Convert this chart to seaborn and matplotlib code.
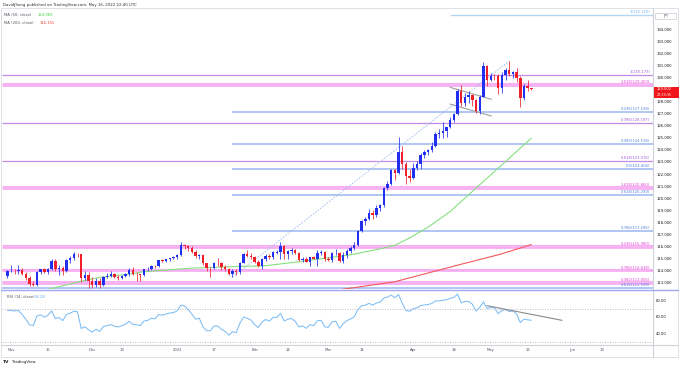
import numpy as np
import pandas as pd
import matplotlib
matplotlib.use("Agg")
import matplotlib.pyplot as plt
import matplotlib.transforms as mtransforms
from matplotlib.lines import Line2D
from matplotlib.patches import Rectangle
import seaborn as sns

sns.set_theme(style="white")
plt.rcParams['font.family'] = ['DejaVu Sans']

# ---------------- data (USD/JPY daily) ----------------
first_day = "2021-10-29"
opens = [113.55, 113.95, 114.00, 113.95, 114.05, 113.75, 113.40, 112.90, 112.85, 113.90,
         114.10, 113.90, 114.15, 114.80, 114.10, 114.25, 113.95, 114.85, 115.05, 115.40,
         115.35, 113.40, 113.65, 113.15, 112.80, 113.15, 112.80, 113.45, 113.55, 113.70,
         113.50, 113.40, 113.55, 113.70, 114.05, 113.75, 113.70, 113.60, 114.10, 114.15,
         114.40, 114.35, 114.85, 114.80, 114.95, 115.05, 115.10, 115.30, 116.15, 116.05,
         115.85, 115.55, 115.20, 115.30, 114.60, 114.25, 114.20, 114.65, 114.60, 114.30,
         114.10, 113.70, 113.95, 113.85, 114.65, 115.35, 115.25, 115.10, 114.70, 114.40,
         114.95, 115.25, 115.10, 115.50, 115.55, 116.05, 115.40, 115.60, 115.70, 115.45,
         114.90, 115.00, 114.75, 115.10, 115.00, 115.50, 115.55, 114.95, 114.90, 115.45,
         115.50, 114.80, 115.30, 115.65, 115.85, 116.15, 117.30, 118.15, 118.30, 118.75,
         118.60, 119.15, 119.45, 120.80, 121.20, 122.30, 122.05, 123.85, 122.85, 121.85,
         121.70, 122.50, 122.80, 123.60, 123.80, 123.95, 124.35, 125.35, 125.40, 125.60,
         125.85, 126.45, 126.95, 128.90, 127.85, 128.40, 128.50, 128.15, 127.25, 128.40,
         130.90, 129.80, 130.15, 130.10, 129.10, 130.20, 130.60, 130.25, 130.45, 129.95,
         128.30, 129.25, 129.10]
highs = [114.05, 114.45, 114.15, 114.45, 114.20, 113.90, 113.55, 113.15, 114.00, 114.15,
         114.25, 114.20, 114.95, 114.95, 114.45, 114.40, 114.95, 115.20, 115.52, 115.50,
         115.40, 113.95, 113.90, 113.50, 113.35, 113.35, 113.55, 113.80, 113.95, 113.80,
         113.65, 113.60, 113.80, 114.25, 114.30, 113.85, 113.75, 114.15, 114.30, 114.45,
         114.45, 114.90, 114.95, 115.00, 115.05, 115.25, 115.40, 116.35, 116.20, 116.10,
         116.05, 115.70, 115.40, 115.35, 114.65, 114.30, 114.70, 115.05, 114.70, 114.45,
         114.20, 114.10, 114.10, 114.70, 115.45, 115.70, 115.45, 115.20, 114.85, 115.05,
         115.40, 115.35, 115.65, 115.70, 116.35, 116.10, 115.70, 115.85, 115.80, 115.55,
         115.15, 115.10, 115.15, 115.25, 115.70, 115.75, 115.65, 115.10, 115.55, 115.80,
         115.55, 115.55, 115.80, 116.00, 116.35, 117.40, 118.20, 118.45, 119.10, 119.00,
         119.40, 119.55, 120.95, 121.40, 122.40, 122.45, 125.09, 124.30, 123.00, 122.45,
         122.90, 123.05, 123.70, 124.00, 124.05, 124.65, 125.45, 125.75, 126.30, 125.90,
         126.70, 127.05, 129.00, 129.40, 128.70, 128.85, 128.60, 128.20, 128.50, 131.25,
         131.00, 130.35, 130.30, 130.30, 130.45, 130.80, 131.35, 130.55, 130.80, 130.10,
         129.45, 129.80, 129.15]
lows = [113.40, 113.85, 113.70, 113.70, 113.60, 113.25, 112.75, 112.72, 112.75, 113.75,
        113.80, 113.75, 114.05, 113.95, 113.60, 113.60, 113.85, 114.65, 114.90, 115.10,
        113.05, 113.20, 112.55, 112.55, 112.65, 112.55, 112.75, 113.40, 113.45, 113.35,
        113.25, 113.30, 113.45, 113.55, 113.65, 113.15, 113.15, 113.55, 113.95, 114.05,
        114.25, 114.30, 114.70, 114.70, 114.80, 114.95, 115.00, 115.25, 115.80, 115.65,
        115.50, 115.05, 115.00, 114.45, 113.95, 113.48, 114.15, 114.35, 114.05, 113.95,
        113.60, 113.47, 113.65, 113.75, 114.60, 115.10, 114.95, 114.60, 114.30, 114.15,
        114.80, 114.95, 114.95, 115.40, 115.00, 115.00, 114.95, 115.35, 115.35, 114.80,
        114.75, 114.70, 114.40, 114.95, 114.40, 115.30, 114.80, 114.80, 114.75, 115.30,
        114.70, 114.65, 115.05, 115.50, 115.70, 116.05, 117.20, 117.80, 118.20, 118.25,
        118.45, 118.90, 119.30, 120.65, 121.05, 121.50, 122.00, 122.40, 121.20, 121.30,
        121.55, 122.35, 122.45, 123.35, 123.55, 123.80, 124.25, 124.95, 125.00, 125.10,
        125.80, 126.30, 126.90, 127.60, 127.60, 127.90, 127.60, 127.05, 126.95, 128.35,
        129.30, 129.70, 129.75, 128.60, 128.70, 129.80, 130.15, 129.95, 129.65, 127.52,
        128.15, 128.90, 128.95]
closes = [113.95, 114.00, 113.95, 114.05, 113.75, 113.40, 112.90, 112.85, 113.90, 114.10,
          113.90, 114.15, 114.80, 114.10, 114.25, 113.95, 114.85, 115.05, 115.40, 115.35,
          113.40, 113.65, 113.15, 112.80, 113.15, 112.80, 113.45, 113.55, 113.70, 113.50,
          113.40, 113.55, 113.70, 114.05, 113.75, 113.70, 113.60, 114.10, 114.15, 114.40,
          114.35, 114.85, 114.80, 114.95, 115.05, 115.10, 115.30, 116.10, 116.05, 115.85,
          115.55, 115.20, 115.30, 114.60, 114.20, 114.20, 114.60, 114.60, 114.30, 114.10,
          113.70, 113.95, 113.85, 114.65, 115.35, 115.25, 115.10, 114.70, 114.40, 114.95,
          115.25, 115.10, 115.55, 115.55, 116.05, 115.40, 115.60, 115.70, 115.45, 114.90,
          115.00, 114.75, 115.10, 115.00, 115.50, 115.55, 114.95, 114.90, 115.45, 115.50,
          114.80, 115.30, 115.65, 115.85, 116.15, 117.30, 118.15, 118.30, 118.75, 118.60,
          119.15, 119.45, 120.80, 121.20, 122.30, 122.05, 123.85, 122.85, 121.85, 121.70,
          122.50, 122.80, 123.60, 123.80, 123.95, 124.35, 125.35, 125.40, 125.60, 125.85,
          126.45, 126.95, 128.90, 127.85, 128.40, 128.50, 128.15, 127.25, 128.40, 130.90,
          129.80, 130.15, 130.10, 129.10, 130.20, 130.60, 130.25, 130.45, 129.95, 128.30,
          129.25, 129.10, 129.00]
# October 2021 closes used only to warm up the RSI(14)
warmup_closes = [111.29, 111.05, 110.93, 111.45, 111.42, 111.61, 112.24, 113.30, 113.60,
                 113.25, 113.69, 114.21, 114.35, 114.36, 114.31, 113.98, 113.51, 113.71,
                 114.13, 113.82, 113.58]

last_price_text = "129.002"
rsi_value_text = "56.28"

# moving averages (bar index, value)
ma50_idx = [10, 11.5, 19.7, 25.1, 34, 36.7, 49.5, 63, 69.8, 79.3, 92.8, 101, 105, 109, 114.5, 120, 124, 142]
ma50_val = [112.35, 112.48, 113.1, 113.45, 113.75, 113.9, 114.2, 114.35, 114.4, 114.75, 115.3, 115.8,
            116.1, 116.7, 117.7, 118.9, 120.0, 124.969]
ma200_idx = [88, 90.7, 105, 122.6, 133.5, 142]
ma200_val = [112.3, 112.45, 113.08, 114.5, 115.35, 116.155]

# fibonacci levels: label, price, kind, start bar
fib_labels = ["1(135.150)", "1(130.173)", "2.618(129.403)", "0.236(127.128)", "0.786(126.197)",
              "0.382(124.518)", "0.618(123.076)", "0.5(122.406)", "1.618(120.860)", "0.618(120.299)",
              "0.786(117.296)", "0.236(115.980)", "0.786(114.018)", "0.382(113.006)", "0.618(112.598)"]
fib_prices = [135.150, 130.173, 129.403, 127.128, 126.197, 124.518, 123.076, 122.406, 120.860,
              120.299, 117.296, 115.980, 114.018, 113.006, 112.598]
fib_kinds = ["sky", "purple", "pink", "blue", "purple", "blue", "purple", "blue", "pink",
             "blue", "blue", "pink", "pink", "pink", "blue"]
fib_start = [120, None, None, 61, None, 61, None, 61, None, 61, 61, None, None, None, None]

tick_dates = ["2021-11-01", "2021-11-15", "2021-12-01", "2021-12-13", "2022-01-03", "2022-01-17",
              "2022-02-01", "2022-02-14", "2022-03-01", "2022-03-14", "2022-04-01", "2022-04-18",
              "2022-05-02", "2022-05-16", "2022-06-01", "2022-06-13"]
tick_labels = ["Nov", "15", "Dec", "13", "2022", "17", "Feb", "14", "Mar", "14", "Apr", "18",
               "May", "16", "Jun", "13"]

# ---------------- derived ----------------
days = pd.bdate_range(first_day, "2022-06-30")
n = len(closes)
xi = np.arange(n)
o = np.array(opens); h = np.array(highs); l = np.array(lows); c = np.array(closes)

allc = np.array(warmup_closes + closes)
d = np.diff(allc)
gain = np.clip(d, 0, None); loss = np.clip(-d, 0, None)
p = 14
rsi_all = np.full(len(allc), np.nan)
ag = gain[:p].mean(); al = loss[:p].mean()
rsi_all[p] = 100 - 100 / (1 + ag / al)
for i in range(p + 1, len(allc)):
    ag = (ag * (p - 1) + gain[i - 1]) / p
    al = (al * (p - 1) + loss[i - 1]) / p
    rsi_all[i] = 100 - 100 / (1 + ag / al)
rsi = rsi_all[len(warmup_closes):]

# ---------------- figure ----------------
W, H = 679, 368
fig = plt.figure(figsize=(W / 100, H / 100), dpi=100)
fig.patch.set_facecolor("white")

def fx(px):
    return px / W

def fy(py):
    return 1 - py / H

L, R = 2, 653
ax = fig.add_axes([fx(L), fy(289), (R - L) / W, (289 - 9) / H])
ax2 = fig.add_axes([fx(L), fy(344), (R - L) / W, (344 - 291) / H])

x0 = (L - 7.4) / 3.69
x1 = (R - 7.4) / 3.69
for a in (ax, ax2):
    a.set_facecolor("white")
    a.set_xlim(x0, x1)
    for s in a.spines.values():
        s.set_visible(False)
    a.grid(False)

ax.set_ylim(112.48, 135.66)
ax2.set_ylim(27.7, 91.1)

UP, DN = "#2130f0", "#f0202a"
col_line = {"purple": "#c58ce6", "pink": "#f6b0f1", "blue": "#aac2f2", "sky": "#b3d6f7"}
col_text = {"purple": "#a35ad8", "pink": "#e23fd8", "blue": "#4f7fe0", "sky": "#6fb0ee"}
lw_line = {"purple": 0.9, "pink": 2.0, "blue": 1.3, "sky": 1.0}

btrans = mtransforms.blended_transform_factory(ax.transAxes, ax.transData)
for lab, pr, kind, st in zip(fib_labels, fib_prices, fib_kinds, fib_start):
    xs = x0 if st is None else st
    ax.hlines(pr, xs, x1, colors=col_line[kind], lw=lw_line[kind], zorder=1)
    if kind == "pink":
        ax.hlines(pr + 0.15, xs, x1, colors=col_line[kind], lw=0.8, zorder=1)
    ax.text(0.9955, pr + 0.07, lab, transform=btrans, ha="right", va="bottom",
            fontsize=2.7, color=col_text[kind], zorder=3)

ax.plot([61, 136], [113.466, 131.35], color="#9dbcf0", lw=0.7, ls=(0, (1.5, 1.5)), zorder=2)
ax.plot([119.9, 131.2], [129.18, 128.18], color="#a0a0a0", lw=0.8, zorder=2)
ax.plot([119.9, 131.2], [127.79, 126.80], color="#a0a0a0", lw=0.8, zorder=2)

sns.lineplot(x=ma50_idx, y=ma50_val, ax=ax, color="#86e07e", lw=0.8, zorder=2)
sns.lineplot(x=ma200_idx, y=ma200_val, ax=ax, color="#f05a5a", lw=0.8, zorder=2)

colors = np.where(c >= o, UP, DN)
ax.vlines(xi, l, h, colors=colors, lw=0.55, zorder=4)
ax.bar(xi, np.maximum(np.abs(c - o), 0.05), bottom=np.minimum(o, c), width=0.66,
       color=colors, linewidth=0, zorder=5)

ax.yaxis.tick_right()
yt = [v for v in range(113, 135) if v != 129]
ax.set_yticks(yt)
ax.set_yticklabels([f"{v:.3f}" for v in yt])
ax.tick_params(axis="y", length=0, pad=2.3, labelsize=2.7, labelcolor="#131722")
ax.set_xticks([])

sns.lineplot(x=xi, y=rsi, ax=ax2, color="#7dbdf5", lw=0.75, zorder=3)
for lev in (70, 30):
    ax2.axhline(lev, color="#b2b5be", lw=0.6, ls=(0, (1.2, 1.8)), zorder=1)
ax2.plot([130, 150.3], [73.5, 56.0], color="#8a8a8a", lw=0.8, zorder=4)
ax2.yaxis.tick_right()
ax2.set_yticks([40, 60, 80])
ax2.set_yticklabels(["40.00", "60.00", "80.00"])
ax2.tick_params(axis="y", length=0, pad=2.3, labelsize=2.7, labelcolor="#131722")
pos = [days.get_loc(pd.Timestamp(t)) for t in tick_dates]
ax2.set_xticks(pos)
ax2.set_xticklabels(tick_labels)
ax2.tick_params(axis="x", length=0, pad=3.2, labelsize=2.7, labelcolor="#50535e")

fig.add_artist(Line2D([fx(R), fx(R)], [fy(8), fy(357)], color="#cfd2d9", lw=0.8))
fig.add_artist(Line2D([fx(1), fx(678)], [fy(290), fy(290)], color="#9fa8f0", lw=1.0))
fig.add_artist(Line2D([fx(1), fx(678)], [fy(344.5), fy(344.5)], color="#cfd2d9", lw=0.8))
fig.add_artist(Rectangle((fx(1), fy(357)), 677 / W, (357 - 8) / H, fill=False,
                         edgecolor="#d9dce3", lw=0.6))

fig.text(fx(3), fy(5), "DavidJSong published on TradingView.com, May 16, 2022 22:40 UTC",
         fontsize=2.8, color="#2a2e39", va="center", ha="left")
fig.text(fx(4), fy(15), "MA (50, close)", fontsize=2.7, color="#50535e", va="center")
fig.text(fx(38), fy(15), "124.969", fontsize=2.7, color="#3ccc3c", va="center")
fig.text(fx(4), fy(22.5), "MA (200, close)", fontsize=2.7, color="#50535e", va="center")
fig.text(fx(40), fy(22.5), "116.155", fontsize=2.7, color="#f0403a", va="center")
fig.text(fx(7), fy(297), "RSI (14, close)", fontsize=2.7, color="#50535e", va="center")
fig.text(fx(34.5), fy(297), rsi_value_text, fontsize=2.7, color="#5aa9f0", va="center")

fig.add_artist(Rectangle((fx(655), fy(18.5)), 21 / W, 6 / H, fill=False,
                         edgecolor="#c8cbd2", lw=0.5))
fig.text(fx(665.5), fy(15.5), "JPY", fontsize=2.5, color="#50535e", va="center", ha="center")

fig.add_artist(Rectangle((fx(653.5), fy(97.5)), 25 / W, 11 / H, facecolor="#f0141b",
                         edgecolor="none"))
fig.text(fx(657), fy(89.5), last_price_text, fontsize=2.6, color="white", va="center")
fig.text(fx(657), fy(94.5), "22:19:35", fontsize=2.4, color="white", va="center")

fig.text(fx(3), fy(362), "TV", fontsize=3.2, color="#131722", va="center", weight="bold")
fig.text(fx(12), fy(362), "TradingView", fontsize=2.8, color="#131722", va="center")

fig.savefig("out.png", dpi=100, facecolor="white")
